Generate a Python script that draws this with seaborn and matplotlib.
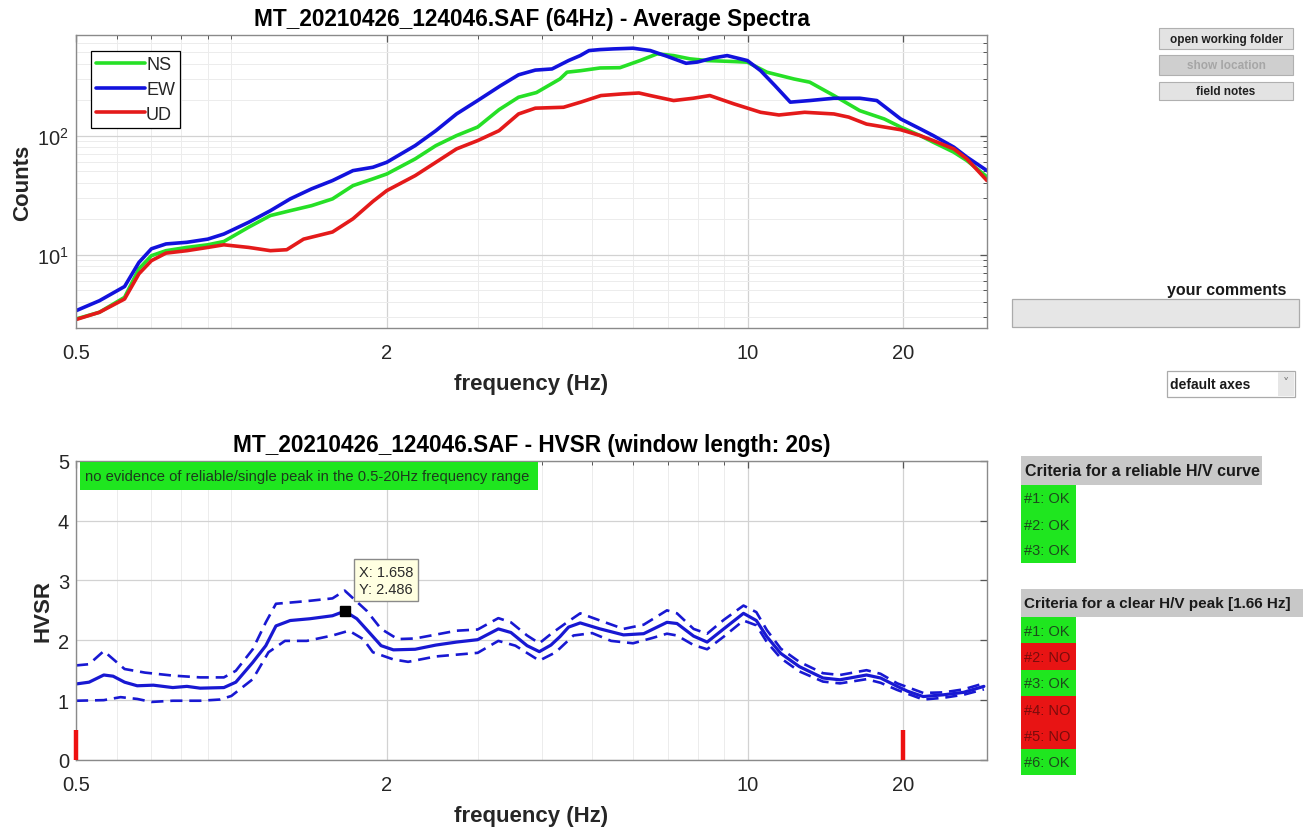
import numpy as np
import pandas as pd
import matplotlib
matplotlib.use("Agg")
import matplotlib.pyplot as plt
import seaborn as sns
from matplotlib.patches import Rectangle
from matplotlib.ticker import (FixedLocator, FixedFormatter, LogLocator,
                               NullFormatter, NullLocator, MultipleLocator)

# ---------------- data ----------------
ns_freq = [0.5, 0.555, 0.621, 0.662, 0.70, 0.747, 0.82, 0.90, 0.967, 1.08,
           1.19, 1.30, 1.43, 1.57, 1.72, 1.88, 2.0, 2.27, 2.49, 2.73,
           3.0, 3.3, 3.6, 3.9, 4.33, 4.47, 4.75, 5.18, 5.66, 6.19,
           6.68, 7.19, 7.74, 8.35, 9.4, 9.99, 10.9, 12.3, 13.2, 14.7,
           16.5, 18.4, 19.8, 21.6, 22.9, 25.1, 26.6, 29.1]
ns_counts = [2.88, 3.28, 4.38, 7.6, 9.8, 10.8, 11.5, 12.1, 12.9, 17,
             21.3, 23.4, 25.8, 29.4, 38, 43.3, 47.6, 63.7, 82.4, 100,
             118, 165, 210, 230, 299, 341, 351, 370, 372, 427,
             486, 470, 441, 427, 419, 414, 341, 299, 281, 217,
             162, 138, 118, 100, 88, 72.5, 61.7, 45]

ew_freq = [0.5, 0.555, 0.621, 0.662, 0.70, 0.747, 0.82, 0.90, 0.967, 1.08,
           1.19, 1.30, 1.43, 1.57, 1.72, 1.88, 2.0, 2.27, 2.49, 2.73,
           3.0, 3.32, 3.6, 3.88, 4.18, 4.5, 4.74, 4.93, 5.18, 5.5,
           6.0, 6.48, 6.98, 7.6, 8.0, 8.6, 9.13, 9.99, 10.6, 11.3,
           12.1, 13.2, 14.7, 16.5, 17.8, 19.8, 21.6, 22.9, 25.1, 26.6, 29.1]
ew_counts = [3.38, 4.1, 5.4, 8.6, 11.2, 12.3, 12.7, 13.5, 14.9, 18.7,
             23.4, 29.4, 35.7, 41.9, 50.8, 54.2, 59.7, 82.4, 110, 152,
             197, 262, 324, 355, 363, 427, 470, 518, 528, 535,
             542, 518, 464, 405, 415, 450, 470, 427, 351, 263,
             191, 197, 206, 206, 197, 138, 114, 100, 80, 66, 50.8]

ud_freq = [0.5, 0.555, 0.621, 0.662, 0.70, 0.747, 0.82, 0.90, 0.967, 1.08,
           1.19, 1.28, 1.38, 1.57, 1.72, 1.88, 2.0, 2.27, 2.49, 2.73,
           3.0, 3.3, 3.6, 3.88, 4.4, 4.75, 5.2, 5.72, 6.16, 6.48,
           7.19, 7.85, 8.45, 9.4, 10.6, 11.5, 12.9, 14.7, 15.7, 17.0,
           19.8, 21.6, 22.9, 25.1, 26.6, 29.1]
ud_counts = [2.85, 3.28, 4.24, 6.9, 8.9, 10.3, 10.8, 11.5, 12.1, 11.5,
             10.8, 11.0, 13.5, 15.5, 20, 28.0, 34.5, 46.1, 59.7, 77.3,
             90.8, 110, 152, 170, 173, 191, 217, 224, 228, 217,
             197, 206, 217, 185, 157, 149, 157, 152, 143, 125,
             112, 100, 90.8, 77.3, 63.7, 41.9]

hv_freq = [0.5, 0.53, 0.566, 0.59, 0.621, 0.657, 0.706, 0.77, 0.82, 0.87,
           0.967, 1.02, 1.10, 1.166, 1.22, 1.30, 1.42, 1.57, 1.658, 1.75,
           1.85, 1.95, 2.06, 2.27, 2.49, 2.73, 3.0, 3.29, 3.48, 3.74,
           3.95, 4.16, 4.33, 4.5, 4.74, 5.18, 5.75, 6.29, 6.98, 7.30,
           7.86, 8.35, 8.99, 9.82, 10.4, 10.9, 11.6, 12.6, 14.0, 15.1,
           17.0, 18.1, 19.5, 20.4, 21.9, 24.0, 26.2, 28.7]
hv_mean = [1.27, 1.30, 1.42, 1.40, 1.30, 1.24, 1.25, 1.21, 1.23, 1.20,
           1.21, 1.30, 1.63, 1.91, 2.24, 2.33, 2.36, 2.41, 2.486, 2.36,
           2.13, 1.91, 1.84, 1.85, 1.92, 1.97, 2.01, 2.19, 2.13, 1.91,
           1.81, 1.92, 2.06, 2.22, 2.29, 2.19, 2.09, 2.11, 2.30, 2.28,
           2.07, 1.97, 2.19, 2.45, 2.33, 2.06, 1.78, 1.56, 1.37, 1.34,
           1.42, 1.37, 1.23, 1.15, 1.06, 1.09, 1.13, 1.23]

hv_up_freq = [0.5, 0.53, 0.566, 0.621, 0.68, 0.77, 0.87, 0.967, 1.02, 1.10,
              1.166, 1.22, 1.34, 1.42, 1.57, 1.658, 1.83, 1.95, 2.1, 2.27,
              2.73, 3.0, 3.29, 3.48, 3.74, 3.95, 4.18, 4.47, 4.74, 5.18,
              5.75, 6.29, 6.98, 7.30, 7.86, 8.35, 8.99, 9.82, 10.4, 10.9,
              11.6, 12.6, 14.0, 15.1, 17.0, 18.1, 19.5, 21.9, 24.0, 26.2, 28.7]
hv_upper = [1.58, 1.60, 1.82, 1.52, 1.46, 1.41, 1.38, 1.38, 1.49, 1.85,
            2.30, 2.61, 2.64, 2.66, 2.70, 2.83, 2.49, 2.19, 2.02, 2.03,
            2.16, 2.18, 2.37, 2.30, 2.08, 1.95, 2.12, 2.30, 2.45, 2.33,
            2.19, 2.26, 2.50, 2.45, 2.19, 2.11, 2.34, 2.58, 2.47, 2.17,
            1.86, 1.64, 1.45, 1.42, 1.50, 1.44, 1.28, 1.12, 1.13, 1.18, 1.28]

hv_lo_freq = [0.5, 0.566, 0.61, 0.657, 0.70, 0.77, 0.87, 0.95, 1.0, 1.10,
              1.18, 1.27, 1.40, 1.57, 1.69, 1.80, 1.88, 2.06, 2.2, 2.49,
              3.0, 3.29, 3.55, 3.95, 4.25, 4.6, 5.0, 5.44, 6.0, 6.55,
              6.98, 7.30, 7.86, 8.35, 8.99, 9.82, 10.4, 10.9, 11.6, 12.6,
              14.0, 15.1, 17.0, 18.1, 19.5, 21.9, 24.0, 26.2, 28.7]
hv_lower = [0.99, 1.0, 1.05, 1.02, 0.97, 0.99, 0.99, 1.01, 1.07, 1.35,
            1.80, 1.99, 1.99, 2.08, 2.16, 2.02, 1.80, 1.68, 1.64, 1.73,
            1.79, 1.99, 1.91, 1.66, 1.80, 2.08, 2.12, 1.99, 1.95, 2.04,
            2.11, 2.08, 1.92, 1.85, 2.06, 2.33, 2.25, 1.97, 1.70, 1.48,
            1.31, 1.28, 1.35, 1.29, 1.17, 1.01, 1.04, 1.09, 1.18]

peak_x, peak_y = 1.658, 2.486
range_marks = [0.5, 20]
range_mark_height = 0.5

x_ticks = [0.5, 2, 10, 20]
x_tick_labels = ["0.5", "2", "10", "20"]
x_limits = (0.5, 29.1)
top_ylim = (2.42, 700)
hv_ylim = (0, 5)

title_top = "MT_20210426_124046.SAF (64Hz) - Average Spectra"
title_bot = "MT_20210426_124046.SAF - HVSR (window length: 20s)"
note_text = "no evidence of reliable/single peak in the 0.5-20Hz frequency range"

reliable_header = "Criteria for a reliable H/V curve"
reliable_rows = ["#1: OK", "#2: OK", "#3: OK"]
peak_header = "Criteria for a clear H/V peak [1.66 Hz]"
peak_rows = ["#1: OK", "#2: NO", "#3: OK", "#4: NO", "#5: NO", "#6: OK"]
buttons = ["open working folder", "show location", "field notes"]

# ---------------- style ----------------
sns.set_theme(style="white")
plt.rcParams["font.family"] = ["Liberation Sans", "DejaVu Sans"]
plt.rcParams["axes.edgecolor"] = "#8a8a8a"
plt.rcParams["axes.linewidth"] = 1.0

C_NS = "#26e026"
C_EW = "#1212dd"
C_UD = "#e41a1a"
C_HV = "#1818d2"
TICK_C = "#262626"

W, H = 1303, 828
fig = plt.figure(figsize=(W / 100, H / 100), dpi=100)
fig.patch.set_facecolor("white")


def frect(x0, y0, x1, y1):
    """pixel box (top-left origin) -> figure fraction rect"""
    return (x0 / W, 1 - y1 / H, (x1 - x0) / W, (y1 - y0) / H)


ax1 = fig.add_axes(frect(76, 36, 987, 329))
ax2 = fig.add_axes(frect(76, 461.7, 987, 761))

# ---------------- top: spectra ----------------
ax1.set_xscale("log")
ax1.set_yscale("log")
for name, f, v, c in [("NS", ns_freq, ns_counts, C_NS),
                      ("EW", ew_freq, ew_counts, C_EW),
                      ("UD", ud_freq, ud_counts, C_UD)]:
    df = pd.DataFrame({"freq": f, "val": v})
    sns.lineplot(data=df, x="freq", y="val", ax=ax1, color=c, linewidth=2.6,
                 label=name, estimator=None, sort=False)

ax1.set_xlim(*x_limits)
ax1.set_ylim(*top_ylim)
ax1.set_title(title_top, fontsize=16.3, fontweight="bold", pad=7, color="black")
ax1.set_xlabel("frequency (Hz)", fontsize=16, fontweight="bold", labelpad=8)
ax1.set_ylabel("Counts", fontsize=16, fontweight="bold", labelpad=3)

leg = ax1.legend(loc="upper left", bbox_to_anchor=((91 - 76) / 911, (329 - 52) / 293),
                 borderaxespad=0, fontsize=13, frameon=True, fancybox=False,
                 framealpha=1, edgecolor="black", handlelength=2.7,
                 handletextpad=0.05, labelspacing=0.42, borderpad=0.3)
leg.get_frame().set_linewidth(0.9)

# ---------------- bottom: HVSR ----------------
ax2.set_xscale("log")
sns.lineplot(x=hv_freq, y=hv_mean, ax=ax2, color=C_HV, linewidth=2.3,
             estimator=None, sort=False)
sns.lineplot(x=hv_up_freq, y=hv_upper, ax=ax2, color=C_HV, linewidth=1.9,
             linestyle=(0, (4.6, 2.6)), estimator=None, sort=False)
sns.lineplot(x=hv_lo_freq, y=hv_lower, ax=ax2, color=C_HV, linewidth=1.9,
             linestyle=(0, (4.6, 2.6)), estimator=None, sort=False)
ax2.vlines(range_marks, 0, range_mark_height, colors="#ee1111", linewidth=3.2,
           clip_on=False, zorder=5)
ax2.plot([peak_x], [peak_y], marker="s", color="black", markersize=7,
         linestyle="none", zorder=6)
ax2.annotate(f"X: {peak_x:.3f}\nY: {peak_y:.3f}", xy=(peak_x, peak_y),
             xytext=(14, 31), textcoords="offset pixels", ha="left", va="center",
             fontsize=10.5, color="#2a2a2a", linespacing=1.3, zorder=7,
             bbox=dict(boxstyle="square,pad=0.35", fc="#ffffe1", ec="#8a8a8a", lw=1))

ax2.set_xlim(*x_limits)
ax2.set_ylim(*hv_ylim)
ax2.set_title(title_bot, fontsize=16.3, fontweight="bold", pad=7, color="black")
ax2.set_xlabel("frequency (Hz)", fontsize=16, fontweight="bold", labelpad=8)
ax2.set_ylabel("HVSR", fontsize=16, fontweight="bold", labelpad=3)
ax2.yaxis.set_major_locator(MultipleLocator(1))
ax2.yaxis.set_minor_locator(NullLocator())

for ax in (ax1, ax2):
    ax.xaxis.set_major_locator(FixedLocator(x_ticks))
    ax.xaxis.set_major_formatter(FixedFormatter(x_tick_labels))
    ax.xaxis.set_minor_locator(LogLocator(base=10, subs=np.arange(1, 10), numticks=30))
    ax.xaxis.set_minor_formatter(NullFormatter())
    ax.tick_params(axis="both", which="both", direction="in", top=True, right=True,
                   colors="#555555", labelcolor=TICK_C, labelsize=14.5)
    ax.tick_params(axis="both", which="major", length=5, width=0.9)
    ax.tick_params(axis="both", which="minor", length=3, width=0.7)
    ax.tick_params(axis="x", pad=10.5)
    ax.tick_params(axis="y", pad=5)
    ax.grid(True, which="major", color="#d2d2d2", linewidth=0.9)
    ax.grid(True, which="minor", color="#ececec", linewidth=0.7)
    ax.set_axisbelow(True)
    for s in ax.spines.values():
        s.set_visible(True)
        s.set_color("#8a8a8a")

ax1.yaxis.set_major_locator(LogLocator(base=10, numticks=10))
ax1.yaxis.set_minor_locator(LogLocator(base=10, subs=np.arange(2, 10), numticks=30))
ax1.yaxis.set_minor_formatter(NullFormatter())

# green note box inside HVSR axes
fig.add_artist(Rectangle(frect(80, 463, 538, 491)[:2], (538 - 80) / W, (491 - 463) / H,
                         transform=fig.transFigure, facecolor="#1fe61f",
                         edgecolor="none", zorder=5))
fig.text(85 / W, 1 - 477.5 / H, note_text, fontsize=10.6, color="#1c3a1c",
         ha="left", va="center", zorder=6)

# ---------------- right-hand panel ----------------
def box(x0, y0, x1, y1, fc, ec="none", lw=1.0, z=3):
    fig.add_artist(Rectangle(frect(x0, y0, x1, y1)[:2], (x1 - x0) / W, (y1 - y0) / H,
                             transform=fig.transFigure, facecolor=fc, edgecolor=ec,
                             linewidth=lw, zorder=z))


btn_rows = [(29, 50), (56, 76), (83, 101)]
for label, (y0, y1) in zip(buttons, btn_rows):
    disabled = label == "show location"
    box(1159, y0, 1293, y1, "#cfcfcf" if disabled else "#e3e3e3",
        ec="#b0b0b0", lw=0.8)
    fig.text((1159 + 1293) / 2 / W, 1 - (y0 + y1) / 2 / H, label, fontsize=8.5,
             fontweight="bold", color="#a6a6a6" if disabled else "#202020",
             ha="center", va="center", zorder=4)

fig.text(1227 / W, 1 - 290 / H, "your comments", fontsize=11.5, fontweight="bold",
         color="#1a1a1a", ha="center", va="center")
box(1012, 300, 1299, 328, "#e6e6e6", ec="#ababab", lw=0.9)

box(1167, 372, 1295, 398, "white", ec="#ababab", lw=0.9)
box(1278, 373, 1294, 397, "#e6e6e6", z=4)
fig.text(1170 / W, 1 - 385.5 / H, "default axes", fontsize=10, fontweight="bold",
         color="#1a1a1a", ha="left", va="center", zorder=5)
fig.text(1286 / W, 1 - 384 / H, "\u02c5", fontsize=9, color="#777777",
         ha="center", va="center", zorder=5, family=["DejaVu Sans"])

# criteria tables
box(1021, 457, 1262, 486, "#c8c8c8")
fig.text(1025 / W, 1 - 472 / H, reliable_header, fontsize=11.5, fontweight="bold",
         color="#1a1a1a", ha="left", va="center", zorder=4)
for i, lab in enumerate(reliable_rows):
    y0 = 486 + 26 * i
    box(1021, y0, 1076, y0 + 26, "#1fe61f")
    fig.text(1024 / W, 1 - (y0 + 13.5) / H, lab, fontsize=10.5, color="#1c4a1c",
             ha="left", va="center", zorder=4)

box(1021, 590, 1303, 618, "#c8c8c8")
fig.text(1024 / W, 1 - 604 / H, peak_header, fontsize=11.0, fontweight="bold",
         color="#1a1a1a", ha="left", va="center", zorder=4)
for i, lab in enumerate(peak_rows):
    y0 = 618 + 26.3 * i
    ok = lab.endswith("OK")
    box(1021, y0, 1076, y0 + 26.3, "#1fe61f" if ok else "#e81414")
    fig.text(1024 / W, 1 - (y0 + 13.8) / H, lab, fontsize=10.5,
             color="#1c4a1c" if ok else "#7a0c0c", ha="left", va="center", zorder=4)

fig.savefig("out.png", dpi=100, facecolor="white")
